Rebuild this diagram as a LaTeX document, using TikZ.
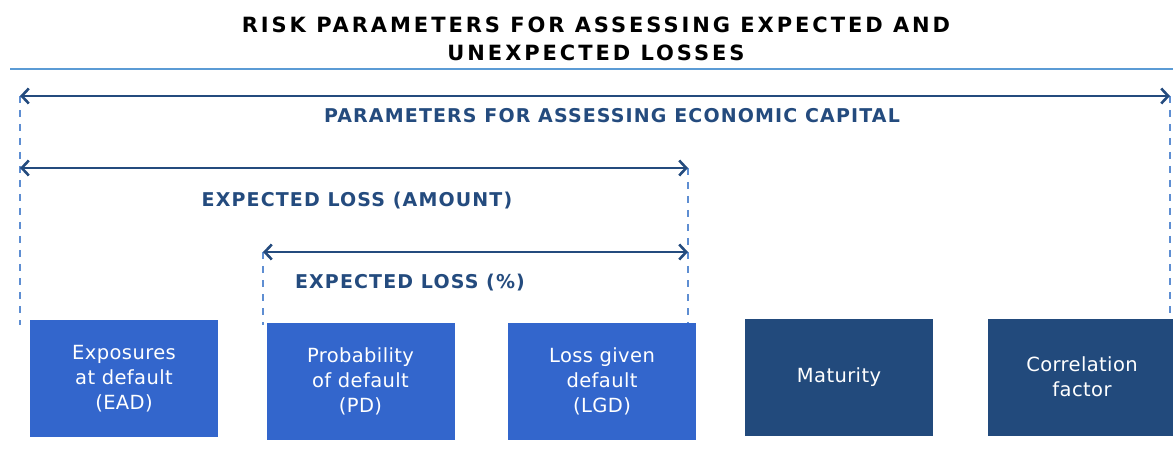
\documentclass[tikz,border=0pt]{standalone}
\usepackage{fontspec}
\setmainfont{DejaVu Sans}
\usepackage{tikz}
\usetikzlibrary{positioning, arrows.meta, calc}
\definecolor{boxlight}{HTML}{3366CC}
\definecolor{boxdark}{HTML}{224A7C}
\definecolor{navy}{HTML}{244B7E}
\definecolor{guide}{HTML}{5E8ED2}
\definecolor{rule}{HTML}{5B9BD5}

\begin{document}
\begin{tikzpicture}[x=1pt, y=-1pt,
      every node/.style={inner sep=0pt},
      param/.style={minimum width=188pt, minimum height=117pt, align=center,
        text=white, font=\fontsize{19.5}{25}\selectfont\addfontfeature{LetterSpace=2}},
      span/.style={line width=2.6pt, color=navy,
        {Straight Barb[length=7pt, width=15pt]}-{Straight Barb[length=7pt, width=15pt]}},
      guideline/.style={line width=2pt, color=guide, dash pattern=on 7pt off 7pt},
      spanlabel/.style={font=\fontsize{19}{22}\selectfont\bfseries\addfontfeature{LetterSpace=6}, text=navy}]

    \useasboundingbox (0,0) rectangle (1173,449);
    \clip (0,0) rectangle (1173,449);

    % Title
    \node[align=center, font=\fontsize{21}{28}\selectfont\bfseries\addfontfeature{LetterSpace=14}]
      (title) at (596,39) {RISK PARAMETERS FOR ASSESSING EXPECTED AND\\UNEXPECTED LOSSES};
    \draw[line width=2pt, color=rule] (10,69) -- (1173,69);

    % Parameter boxes
    \node[param, fill=boxlight] (ead) at (124,378.5) {Exposures\\at default\\(EAD)};
    \node[param, fill=boxlight] (pd) at (360.5,381.5) {Probability\\of default\\(PD)};
    \node[param, fill=boxlight] (lgd) at (602,381.5) {Loss given\\default\\(LGD)};
    \node[param, fill=boxdark] (mat) at (839,377) {Maturity};
    \node[param, fill=boxdark] (corr) at (1082,377) {Correlation\\factor};

    % Span ends
    \coordinate (capL) at (20,96);
    \coordinate (capR) at (1170,96);
    \coordinate (amtL) at (20,168);
    \coordinate (amtR) at (688,168);
    \coordinate (pctL) at (263,252);
    \coordinate (pctR) at (688,252);

    % Dashed guides
    \draw[guideline] (capL) -- ($(capL |- ead.north)+(0,5)$);
    \draw[guideline] (capR) -- (capR |- corr.north);
    \draw[guideline] (amtR) -- (amtR |- lgd.north);
    \draw[guideline] (pctL) -- ($(pctL |- pd.north)+(0,2)$);

    % Spans
    \draw[span] (capL) -- (capR);
    \draw[span] (amtL) -- (amtR);
    \draw[span] (pctL) -- (pctR);

    \node[spanlabel] (capLbl) at (612,116) {PARAMETERS FOR ASSESSING ECONOMIC CAPITAL};
    \node[spanlabel] (amtLbl) at (357,201) {EXPECTED LOSS (AMOUNT)};
    \node[spanlabel] (pctLbl) at (410,283) {EXPECTED LOSS (\%)};
  \end{tikzpicture}
\end{document}
